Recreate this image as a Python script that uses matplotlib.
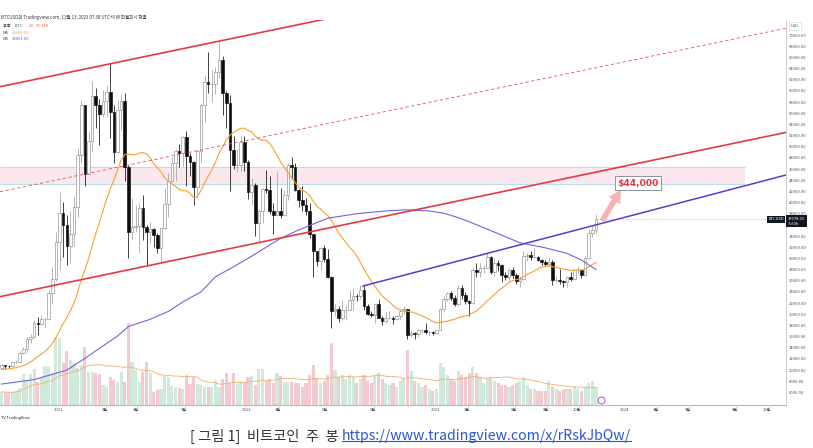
import matplotlib
matplotlib.use("Agg")
import matplotlib.pyplot as plt
import matplotlib.dates as mdates
import matplotlib.transforms as mtransforms
from matplotlib.patches import Rectangle
import pandas as pd

plt.rcParams["font.family"] = ["Noto Sans CJK KR", "DejaVu Sans"]

W, H = 813, 448

# ---- weekly BTCUSD candles (weeks start Monday 2020-09-14) ----
first_week = "2020-09-14"
first_open = 10330
closes = [
    10940, 10780, 10680, 11380, 11500, 13030, 13800, 15480, 15960, 18400, 18180, 19150, 19170, 23860, 26280, 33000,
    38150, 36000, 32300, 34300, 39200, 48600, 57500, 45100, 51000, 59000, 57500, 55800, 58200, 59800, 56200, 49000,
    56600, 58200, 46400, 34700, 35600, 35800, 39000, 35600, 34700, 35300, 34250, 31800, 35400, 39800, 43800, 47000,
    49300, 48800, 51800, 48300, 47300, 42700, 49200, 57500, 61500, 61300, 61300, 63300, 65500, 59700, 57800, 49400,
    46700, 46700, 50800, 47300,
    41900, 43100, 36300, 38500, 42400, 42200, 38400, 37700, 38400, 37800, 41300, 46800, 46400, 42200, 40400, 39500,
    38500, 34300, 31300, 29500, 31800, 29900, 26600, 20550, 21000, 19300, 20800, 20800, 22600, 23300, 23200, 24300,
    21500, 20000, 19800, 21800, 19400, 18800, 19300, 19400, 19100, 19600, 20600, 20900, 16300, 16700, 16400, 17100,
    17100, 16750, 16830, 16600,
    17100, 20900, 22700, 23800, 22900, 21800, 24700, 23500, 22400, 22100, 27900, 27500, 28200, 28300, 30300, 27600,
    29200, 28900, 27000, 26700, 28000, 27100, 25900, 26300, 30500, 30600, 30300, 30300, 29800, 29300, 29000, 29400,
    26100, 26100, 25900, 25800, 26600, 26300, 27900, 27900, 27100, 30000, 34500, 35000, 37078.01,
]
highs = [
    11180, 10990, 10950, 11490, 11720, 13350, 14100, 15960, 16480, 18950, 19480, 19900, 19400, 24300, 28400, 34800,
    41950, 40100, 37800, 38500, 41000, 49700, 58300, 57500, 52600, 61800, 60500, 58500, 60200, 61000, 64850, 57500,
    58400, 59500, 59600, 46700, 40900, 39500, 40000, 41300, 36000, 36600, 35400, 34600, 35500, 42600, 45300, 48200,
    49500, 50500, 52000, 52900, 48800, 47400, 49400, 57900, 62900, 67000, 63700, 64300, 69000, 66300, 59900, 59200,
    51900, 49500, 52100, 52000,
    47600, 44400, 43500, 38900, 42600, 45800, 44700, 40000, 45400, 42600, 42300, 47000, 48200, 47000, 42400, 42900,
    40800, 40000, 34400, 31300, 32000, 32400, 31700, 26900, 21900, 21500, 22500, 21600, 24300, 24700, 23700, 25200,
    25200, 21800, 20600, 21800, 22700, 19700, 20400, 20500, 19700, 19700, 21000, 21500, 21000, 17200, 16800, 17400,
    17400, 18400, 17000, 16950,
    17200, 21200, 23300, 23900, 24200, 23400, 25200, 25200, 23900, 22600, 28500, 29200, 29200, 28800, 31000, 30500,
    30000, 29800, 29000, 27600, 28300, 28400, 27400, 26800, 31400, 31000, 31400, 31800, 30400, 29900, 29800, 30200,
    29700, 26800, 28100, 26100, 26900, 27500, 28000, 28600, 28000, 30400, 35200, 35900, 37900,
]
lows = [
    10200, 10140, 10370, 10530, 11200, 11400, 12950, 13200, 14850, 15800, 16200, 18000, 17600, 19000, 21800, 26000,
    28000, 30300, 28850, 29200, 32300, 37400, 47000, 43000, 45000, 49300, 53300, 50300, 55400, 55500, 51500, 47000,
    48800, 53000, 43800, 30000, 33400, 34800, 31000, 33300, 28800, 32700, 32100, 31000, 29300, 35200, 37500, 43800,
    43900, 46300, 46600, 43000, 44700, 39600, 40800, 47100, 54500, 59600, 58000, 59500, 62300, 55700, 53300, 42000,
    46000, 45500, 45600, 45700,
    40600, 39600, 34000, 32900, 36300, 41700, 38000, 34300, 37600, 37200, 37600, 40500, 44200, 42100, 39200, 38500,
    37700, 33700, 26700, 28700, 28000, 29300, 26500, 17600, 19600, 18600, 19000, 18900, 20700, 20700, 22400, 22700,
    20800, 19800, 19500, 18500, 19300, 18100, 18500, 19100, 18200, 18900, 19200, 20100, 15600, 16000, 15500, 16000,
    16700, 16400, 16300, 16300,
    16500, 17100, 20400, 22300, 22500, 21400, 21400, 22800, 21900, 19600, 21900, 26600, 26600, 27300, 28200, 27200,
    26900, 27700, 25800, 26200, 25900, 26500, 25400, 24800, 26200, 29500, 29700, 30000, 29500, 28900, 28600, 28700,
    25200, 25800, 25500, 24900, 24900, 26000, 26100, 27200, 26500, 26900, 29900, 33900, 34500,
]
# weekly volume, K BTC
volumes_k = [
    52, 52, 48, 52, 56, 68, 124, 96, 124, 144, 92, 108, 156, 152, 128, 272, 268, 168, 216, 180, 168, 148, 160, 232,
    132, 132, 128, 124,
    80, 72, 112, 100, 92, 132, 92, 328, 172, 140, 92, 132, 172, 128, 52, 60, 64, 116, 112, 76, 72, 68, 64, 120, 84,
    112, 84, 80, 72, 72, 72, 100, 72, 104, 128, 88, 128, 84, 96, 92, 112, 116, 80, 144, 144, 96, 104, 88, 128, 116,
    92, 92, 92, 88, 88, 72,
    88, 120, 160, 104, 88, 96, 120, 248, 140, 112, 120, 104, 120, 112, 88, 104, 120, 96, 88, 120, 128, 104, 88, 80,
    88, 72, 96, 104, 220, 136, 96, 88, 72, 80, 64, 56, 64, 168, 152, 120, 104, 96, 136, 120, 112, 128, 152, 128, 112,
    88, 104, 112, 96, 88, 80, 80, 72, 80, 88, 96, 112, 80, 64, 64, 56, 56, 56, 96, 72, 64, 56, 64, 64, 64, 72, 64, 56,
    72, 88, 96, 71,
]
# closes of the 19 weeks before the first visible candle (for MA 20)
pre_closes = [8750, 9670, 9180, 9450, 9670, 9470, 9360, 9010, 9070, 9280, 9160, 9700, 11100, 11680, 11860, 11680,
              11680, 10250, 10330]
# MA 100 (week index, value)
ma100_idx = [0, 9, 18, 23, 27, 32, 35, 41, 46, 50, 55, 59, 64, 68, 77, 82, 90, 98, 106, 112, 118, 122, 126, 130,
             136, 143, 150, 156, 160, 164]
ma100_val = [7500, 8300, 10000, 12100, 13900, 16100, 17800, 19100, 20500, 22200, 24000, 26700, 28500, 30000, 33600,
             35100, 37200, 38000, 38500, 38700, 38500, 38100, 37300, 36300, 34700, 32800, 31900, 30900, 29700, 28000]

# drawings
channel_dates = ["2020-09-11", "2024-11-07"]
channel_low = [23150, 52560]
channel_mid = [41940, 71220]
channel_high = [60740, 90020]
trend_dates = ["2022-08-13", "2024-11-07"]
trend_vals = [25060, 44930]
zone_dates = ["2020-09-11", "2024-08-20"]
zone_vals = [43320, 46365]
target_text = "$44,000"
target_pos = ("2024-01-26", 43500)
arrow_from = ("2023-11-15", 36300)
arrow_to = ("2023-12-27", 42700)

xtick_dates = ["2021-01-01", "2021-04-01", "2021-06-01", "2021-09-01", "2022-01-01", "2022-03-01", "2022-06-01",
               "2022-09-01", "2023-01-01", "2023-03-01", "2023-06-01", "2023-08-01", "2023-10-01", "2024-01-01",
               "2024-03-01", "2024-05-01", "2024-08-01", "2024-10-01"]
xtick_labels = ["2021", "4월", "6월", "9월", "2022", "3월", "6월", "9월", "2023", "3월", "6월", "8월", "10월",
                "2024", "3월", "5월", "8월", "10월"]
yticks = list(range(6000, 70001, 2000))

assert len(closes) == len(highs) == len(lows) == len(volumes_k) == 165

weeks = pd.date_range(first_week, periods=len(closes), freq="7D")
xd = mdates.date2num(weeks)
opens = [first_open] + closes[:-1]
d = lambda s: mdates.date2num(pd.Timestamp(s))

def fx(px):
    return px / W

def fy(py):
    return 1 - py / H

fig = plt.figure(figsize=(W / 100, H / 100), dpi=100)
fig.patch.set_facecolor("white")
ax = fig.add_axes([0, fy(405), fx(786), (405 - 20) / H])
axv = ax.twinx()
ax.set_zorder(axv.get_zorder() + 1)
ax.patch.set_visible(False)

ax.set_xlim(d("2020-09-11"), d("2024-11-07"))
ax.set_ylim(3751, 72686)
axv.set_ylim(0, 385 * 4)

# volume
up = [c >= o for o, c in zip(opens, closes)]
vcols = ["#cfe9da" if u else "#f5c9d0" for u in up]
axv.bar(xd, volumes_k, width=6, color=vcols, linewidth=0)
vma = pd.Series(volumes_k).rolling(20, min_periods=1).mean()
axv.plot(xd, vma, color="#f4ab74", lw=0.6)
axv.axis("off")

# resistance zone
z0, z1 = d(zone_dates[0]), d(zone_dates[1])
ax.add_patch(Rectangle((z0, zone_vals[0]), z1 - z0, zone_vals[1] - zone_vals[0],
                       facecolor="#fbe8ee", edgecolor="none", zorder=1))
ax.hlines(zone_vals, z0, z1, color="#b7dfe6", lw=0.7, zorder=1.1)

# channel and trend lines
cd = [d(s) for s in channel_dates]
ax.plot(cd, channel_high, color="#e23b47", lw=1.2, zorder=5)
ax.plot(cd, channel_low, color="#e23b47", lw=1.2, zorder=5)
ax.plot(cd, channel_mid, color="#e6505b", lw=0.6, dashes=(4, 3), zorder=5)
ax.plot([d(s) for s in trend_dates], trend_vals, color="#5b3cc8", lw=1.1, zorder=5)

# candles
for x, o, h, l, c in zip(xd, opens, highs, lows, closes):
    if c >= o:
        ax.vlines(x, l, h, color="#a8a8a8", lw=0.6, zorder=3)
        ax.add_patch(Rectangle((x - 2.5, o), 5, c - o, facecolor="white", edgecolor="#8c8c8c", lw=0.45, zorder=4))
    else:
        ax.vlines(x, l, h, color="#222222", lw=0.6, zorder=3)
        ax.add_patch(Rectangle((x - 2.5, c), 5, o - c, facecolor="#0d0d0d", edgecolor="#0d0d0d", lw=0.45, zorder=4))

# moving averages
ma20 = pd.Series(pre_closes + closes).rolling(20).mean().iloc[len(pre_closes):]
ax.plot(xd, ma20.values, color="#f5a231", lw=0.8, zorder=4.5)
ax.plot(xd[ma100_idx], ma100_val, color="#7565d6", lw=0.8, zorder=4.5)

# current price line
ax.hlines(closes[-1], xd[-1], ax.get_xlim()[1], color="#9a9a9a", lw=0.5, linestyles=(0, (1, 2)), zorder=2)

# target label and arrow
ax.annotate("", xy=(d(arrow_to[0]), arrow_to[1]), xytext=(d(arrow_from[0]), arrow_from[1]),
            arrowprops=dict(arrowstyle="simple,head_length=0.9,head_width=1.0,tail_width=0.4",
                            color="#f19a9f", alpha=0.75, lw=0), zorder=6)
ax.text(d(target_pos[0]), target_pos[1], target_text, color="#e0353f", fontsize=6.6, fontweight="bold",
        ha="center", va="center", family="DejaVu Sans", zorder=7,
        bbox=dict(boxstyle="square,pad=0.25", fc="white", ec="#8e9399", lw=0.7))

# event marker on the time axis
ax.plot([d("2023-11-15")], [0.014], transform=mtransforms.blended_transform_factory(ax.transData, ax.transAxes),
        marker="o", ms=5, mfc="white", mec="#a04fd0", mew=0.7, zorder=7, clip_on=False)

# axes styling
for s in ["left", "top"]:
    ax.spines[s].set_visible(False)
ax.spines["bottom"].set_color("#b4b8c2")
ax.spines["bottom"].set_linewidth(0.8)
ax.spines["right"].set_color("#c3c6ce")
ax.spines["right"].set_linewidth(0.6)
ax.set_xticks([d(s) for s in xtick_dates])
ax.set_xticklabels(xtick_labels)
ax.tick_params(axis="x", length=0, pad=2.5, labelsize=3.0, labelcolor="#50535e")
ax.yaxis.tick_right()
ax.set_yticks(yticks)
# the 36000 label sits under the last-price tag
ax.set_yticklabels(["" if v == 36000 else f"{v}.00" for v in yticks])
ax.tick_params(axis="y", length=0, pad=2.2, labelsize=3.0, labelcolor="#50535e")

# price tags on the right axis
ax.annotate(f"{closes[-1]:.2f}\n7d 0h", xy=(1, closes[-1]), xycoords=("axes fraction", "data"),
            xytext=(1.6, 1.2), textcoords="offset points", ha="left", va="top", fontsize=2.9, color="white",
            linespacing=1.1, annotation_clip=False, zorder=10,
            bbox=dict(boxstyle="square,pad=0.45", fc="#131722", ec="none"))
ax.annotate("BTCUSD", xy=(1, closes[-1]), xycoords=("axes fraction", "data"),
            xytext=(-1.6, 1.2), textcoords="offset points", ha="right", va="top", fontsize=2.9, color="white",
            annotation_clip=False, zorder=10, bbox=dict(boxstyle="square,pad=0.4", fc="#131722", ec="none"))
ax.annotate("USD", xy=(1, 1), xycoords="axes fraction", xytext=(3.5, -4.5), textcoords="offset points",
            ha="left", va="center", fontsize=2.9, color="#50535e", annotation_clip=False,
            bbox=dict(boxstyle="square,pad=0.5", fc="white", ec="#d0d3da", lw=0.4))

# header & legend
fig.text(fx(1), fy(17), "BTCUSD의 Tradingview.com, 11월 13, 2023 07:38 UTC+9 에 퍼블리시 했음",
         fontsize=3.2, color="#333333", va="center")
fig.text(fx(3), fy(26), "볼륨 · BTC", fontsize=3.0, color="#50535e", va="center")
fig.text(fx(29), fy(26), "20", fontsize=3.0, color="#ef5350", va="center")
fig.text(fx(36), fy(26), "70.74K", fontsize=3.0, color="#ef6c3a", va="center")
fig.text(fx(3), fy(32.5), "MA", fontsize=3.0, color="#50535e", va="center")
fig.text(fx(12), fy(32.5), "29950.69", fontsize=3.0, color="#f5a231", va="center")
fig.text(fx(3), fy(39), "MA", fontsize=3.0, color="#50535e", va="center")
fig.text(fx(12), fy(39), "30001.09", fontsize=3.0, color="#6a55d0", va="center")
fig.text(fx(1), fy(418), "TV TradingView", fontsize=2.8, color="#131722", va="center")

# caption
fig.text(fx(339), fy(436), "[ 그림 1]  비트코인  주  봉", fontsize=10.3, color="#333333", ha="right", va="center")
url = fig.text(fx(342), fy(436), "https://www.tradingview.com/x/rRskJbQw/", fontsize=10.2, color="#2a56d1",
               ha="left", va="center")
r = fig.canvas.get_renderer()
bb = url.get_window_extent(r).transformed(fig.transFigure.inverted())
fig.add_artist(plt.Line2D([bb.x0, bb.x1], [bb.y0 + 0.004, bb.y0 + 0.004], color="#2a56d1", lw=0.8,
                          transform=fig.transFigure))

fig.savefig("out.png", dpi=100)
